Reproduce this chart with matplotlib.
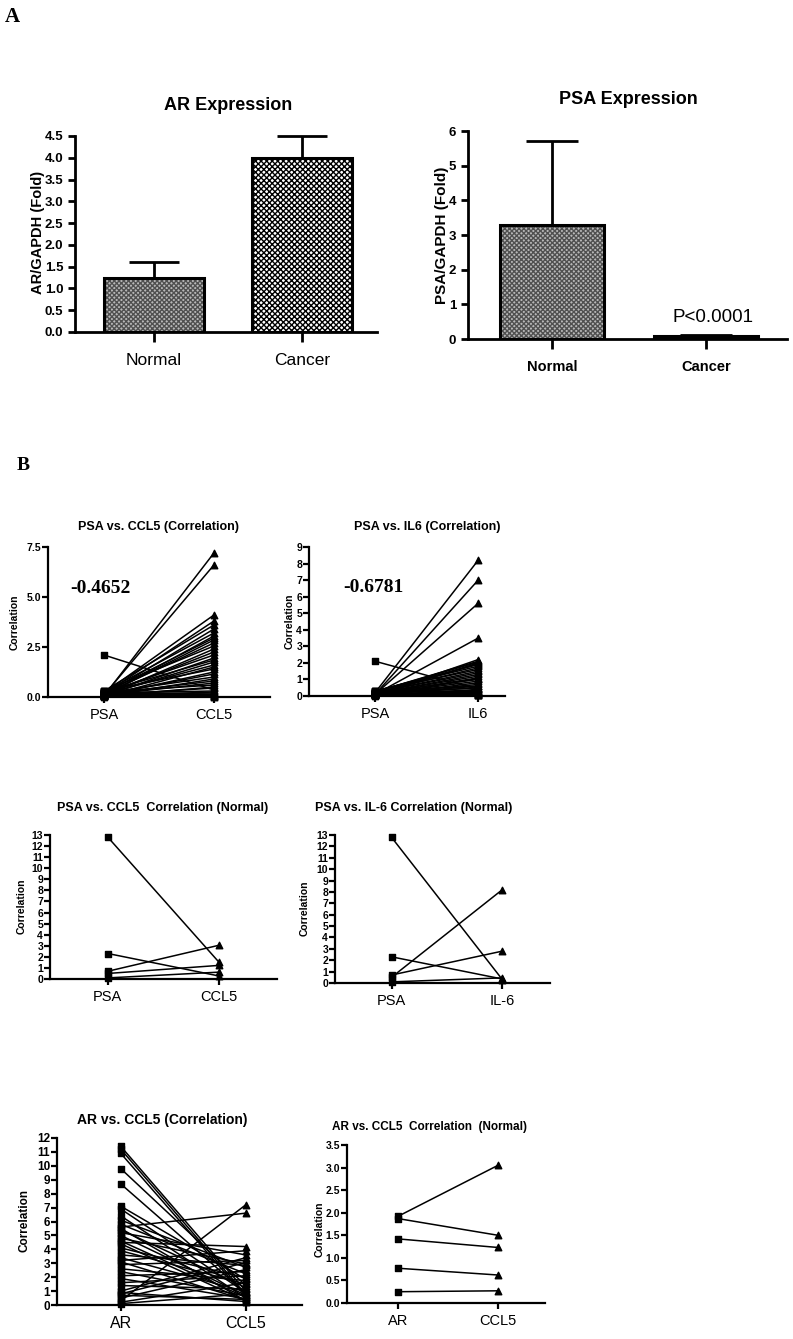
import matplotlib
matplotlib.use("Agg")
import matplotlib.pyplot as plt
import numpy as np

W, H = 793, 1339

# ---- panel A data ----
groups = ["Normal", "Cancer"]
ar_mean = [1.25, 4.0]
ar_err = [0.35, 0.5]
psa_mean = [3.28, 0.08]
psa_err = [2.42, 0.04]

# ---- panel B data (cancer samples) ----
psa_c = [0.05, 0.1, 0.2, 0.15, 0.3, 0.1, 0.25, 0.05, 0.2, 0.1, 0.15, 0.3, 0.05, 0.1, 0.2, 0.05, 0.25, 0.1, 0.15, 0.02,
         0.3, 0.05, 0.1, 0.2, 0.05, 0.15, 0.1, 0.25, 0.05, 0.1, 2.1, 0.2, 0.05, 0.15, 0.1, 0.3, 0.05, 0.2, 0.1, 0.02]
ccl5_c = [7.2, 6.6, 4.1, 3.8, 3.6, 3.4, 3.2, 3.05, 2.95, 2.85, 2.7, 2.55, 2.4, 2.25, 2.1, 1.95, 1.85, 1.75, 1.6, 1.5,
          1.4, 1.25, 1.15, 1.0, 0.9, 0.8, 0.7, 0.6, 0.5, 0.45, 0.35, 0.3, 0.25, 0.2, 0.15, 0.1, 0.08, 0.05, 0.03, 0.02]
il6_c = [2.0, 1.1, 8.2, 0.5, 1.8, 7.0, 0.3, 2.2, 1.5, 5.6, 0.2, 1.9, 0.8, 3.5, 1.0, 0.1, 2.1, 0.6, 1.3, 0.4,
         1.6, 0.05, 0.9, 1.7, 0.3, 1.2, 0.7, 2.05, 0.15, 0.5, 0.4, 1.4, 0.25, 0.1, 1.95, 0.6, 0.35, 0.05, 0.2, 1.05]
ar_c = [0.3, 5.6, 4.5, 3.2, 5.2, 1.0, 2.9, 0.8, 4.8, 3.6, 6.1, 0.5, 2.1, 5.8, 1.6, 4.1, 7.1, 2.6, 0.2, 3.9,
        9.8, 5.4, 1.4, 11.4, 3.4, 6.9, 8.7, 0.1, 11.2, 5.0, 2.4, 10.9, 4.6, 6.4, 1.9, 0.7, 3.1, 4.4, 5.5, 0.9]
# CCL5 as read in the AR panel (low end sits a little higher there)
ccl5_ar = [7.2, 6.6, 4.2, 3.9, 3.6, 3.4, 3.2, 3.05, 2.95, 2.85, 2.7, 2.55, 2.4, 2.25, 2.1, 1.95, 1.85, 1.75, 1.6, 1.5,
           1.4, 1.25, 1.15, 1.0, 0.95, 0.9, 0.85, 0.8, 0.75, 0.7, 0.65, 0.6, 0.55, 0.5, 0.45, 0.4, 0.35, 0.3, 0.3, 0.25]

# normal samples
psa_n = [12.8, 2.3, 0.7, 0.5, 0.1]
ccl5_n = [1.5, 0.27, 3.05, 1.23, 0.62]
il6_n = [0.3, 0.35, 2.8, 8.2, 0.45]
ar_n = [1.87, 0.25, 1.92, 1.42, 0.77]

plt.rcParams["font.family"] = ["Liberation Sans", "DejaVu Sans"]
plt.rcParams["hatch.linewidth"] = 1.0

fig = plt.figure(figsize=(W / 100, H / 100), dpi=100)


def box(l, r, top, bottom):
    return fig.add_axes([l / W, 1 - bottom / H, (r - l) / W, (bottom - top) / H])


def ftext(x, y, s, **kw):
    fig.text(x / W, 1 - y / H, s, ha=kw.pop("ha", "center"), va=kw.pop("va", "center"), **kw)


def style(ax, lw):
    for s in ["top", "right"]:
        ax.spines[s].set_visible(False)
    for s in ["left", "bottom"]:
        ax.spines[s].set_linewidth(lw)
    ax.tick_params(direction="out", width=lw, length=5)


def bar_panel(ax, means, errs, ylim, ticks, fmt, xl_size, xl_weight, cap):
    x = np.arange(len(means))
    faces = ["#b8b8b8", "white"]
    hatches = ["xxxxxxx", "xxxxxx"]
    hcols = ["#505050", "black"]
    for i in range(len(means)):
        ax.bar(x[i], means[i], width=0.67, color=faces[i], hatch=hatches[i], edgecolor=hcols[i], lw=0, zorder=2)
        ax.bar(x[i], means[i], width=0.67, fill=False, edgecolor="black", lw=2.2, zorder=3)
    ax.errorbar(x, means, yerr=[[0] * len(means), errs], fmt="none", ecolor="black",
                elinewidth=2, capsize=cap, capthick=2, zorder=1, clip_on=False)
    ax.set_ylim(*ylim)
    ax.set_yticks(ticks)
    ax.set_yticklabels([fmt % t for t in ticks], fontweight="bold", fontsize=9.5)
    ax.set_xticks(x)
    ax.set_xticklabels(groups, fontsize=xl_size, fontweight=xl_weight)
    style(ax, 2)
    ax.tick_params(axis="x", length=7, pad=8)


# ---- A left ----
ax1 = box(75, 377, 136, 332)
bar_panel(ax1, ar_mean, ar_err, (0, 4.5), np.arange(0, 4.51, 0.5), "%.1f", 12.5, "normal", 18)
ax1.set_xlim(-0.534, 1.507)
ftext(228, 105, "AR Expression", fontsize=13, fontweight="bold")
ftext(38, 232, "AR/GAPDH (Fold)", rotation=90, fontsize=10.5, fontweight="bold")

# ---- A right ----
ax2 = box(468, 787, 131, 339)
bar_panel(ax2, psa_mean, psa_err, (0, 6), np.arange(0, 7, 1), "%d", 10.5, "bold", 19)
ax2.set_xlim(-0.545, 1.526)
ftext(628, 99, "PSA Expression", fontsize=13, fontweight="bold")
ftext(442, 235, "PSA/GAPDH (Fold)", rotation=90, fontsize=11, fontweight="bold")
ftext(713, 318, "P<0.0001", fontsize=13.5)

ftext(5, 17, "A", fontsize=15, fontweight="bold", family="Liberation Serif", ha="left")
ftext(17, 465, "B", fontsize=14, fontweight="bold", family="Liberation Serif", ha="left")


def pair_panel(ax, left, right, labels, xlim, ylim, ticks, fmt, ytsize=7.5, xtsize=10.5):
    for a, b in zip(left, right):
        ax.plot([0, 1], [a, b], color="black", lw=1.1, clip_on=False, zorder=2)
    ax.scatter(np.zeros(len(left)), left, marker="s", s=22, color="black", clip_on=False, zorder=3)
    ax.scatter(np.ones(len(right)), right, marker="^", s=22, color="black", clip_on=False, zorder=3)
    ax.set_xlim(*xlim)
    ax.set_ylim(*ylim)
    ax.set_yticks(ticks)
    ax.set_yticklabels([fmt % t for t in ticks], fontweight="bold", fontsize=ytsize)
    ax.set_xticks([0, 1])
    ax.set_xticklabels(labels, fontsize=xtsize)
    style(ax, 1.6)
    ax.tick_params(axis="y", length=4, pad=1)
    ax.tick_params(axis="x", length=4, pad=4)


# ---- B row 1 ----
b1 = box(48, 270, 547, 697)
pair_panel(b1, psa_c, ccl5_c, ["PSA", "CCL5"], (-0.509, 1.51), (0, 7.5), [0, 2.5, 5.0, 7.5], "%.1f")
ftext(158, 527, "PSA vs. CCL5 (Correlation)", fontsize=9, fontweight="bold")
ftext(15, 622, "Correlation", rotation=90, fontsize=7.5, fontweight="bold")
ftext(100, 588, "-0.4652", fontsize=14, fontweight="bold", family="Liberation Serif")

b2 = box(309, 505, 547, 696)
pair_panel(b2, psa_c, il6_c, ["PSA", "IL6"], (-0.64, 1.26), (0, 9), list(range(0, 10)), "%d")
ftext(427, 527, "PSA vs. IL6 (Correlation)", fontsize=9, fontweight="bold")
ftext(290, 621, "Correlation", rotation=90, fontsize=7.5, fontweight="bold")
ftext(373, 587, "-0.6781", fontsize=14, fontweight="bold", family="Liberation Serif")

# ---- B row 2 ----
b3 = box(50, 277, 835, 979)
pair_panel(b3, psa_n, ccl5_n, ["PSA", "CCL5"], (-0.52, 1.52), (0, 13), list(range(0, 14)), "%d")
ftext(163, 808, "PSA vs. CCL5  Correlation (Normal)", fontsize=9, fontweight="bold")
ftext(22, 906, "Correlation", rotation=90, fontsize=7.5, fontweight="bold")

b4 = box(335, 550, 835, 983)
pair_panel(b4, psa_n, il6_n, ["PSA", "IL-6"], (-0.51, 1.43), (0, 13), list(range(0, 14)), "%d")
ftext(414, 808, "PSA vs. IL-6 Correlation (Normal)", fontsize=9, fontweight="bold")
ftext(305, 908, "Correlation", rotation=90, fontsize=7.5, fontweight="bold")

# ---- B row 3 ----
b5 = box(57, 302, 1138, 1305)
pair_panel(b5, ar_c, ccl5_ar, ["AR", "CCL5"], (-0.51, 1.45), (0, 12), list(range(0, 13)), "%d",
           ytsize=8.5, xtsize=11.5)
ftext(162, 1120, "AR vs. CCL5 (Correlation)", fontsize=10, fontweight="bold")
ftext(25, 1221, "Correlation", rotation=90, fontsize=8.5, fontweight="bold")

b6 = box(347, 545, 1145, 1303)
pair_panel(b6, ar_n, ccl5_n, ["AR", "CCL5"], (-0.51, 1.47), (0, 3.5), np.arange(0, 3.51, 0.5), "%.1f")
ftext(430, 1127, "AR vs. CCL5  Correlation  (Normal)", fontsize=8.5, fontweight="bold")
ftext(320, 1229, "Correlation", rotation=90, fontsize=7.5, fontweight="bold")

fig.savefig("out.png", dpi=100)
